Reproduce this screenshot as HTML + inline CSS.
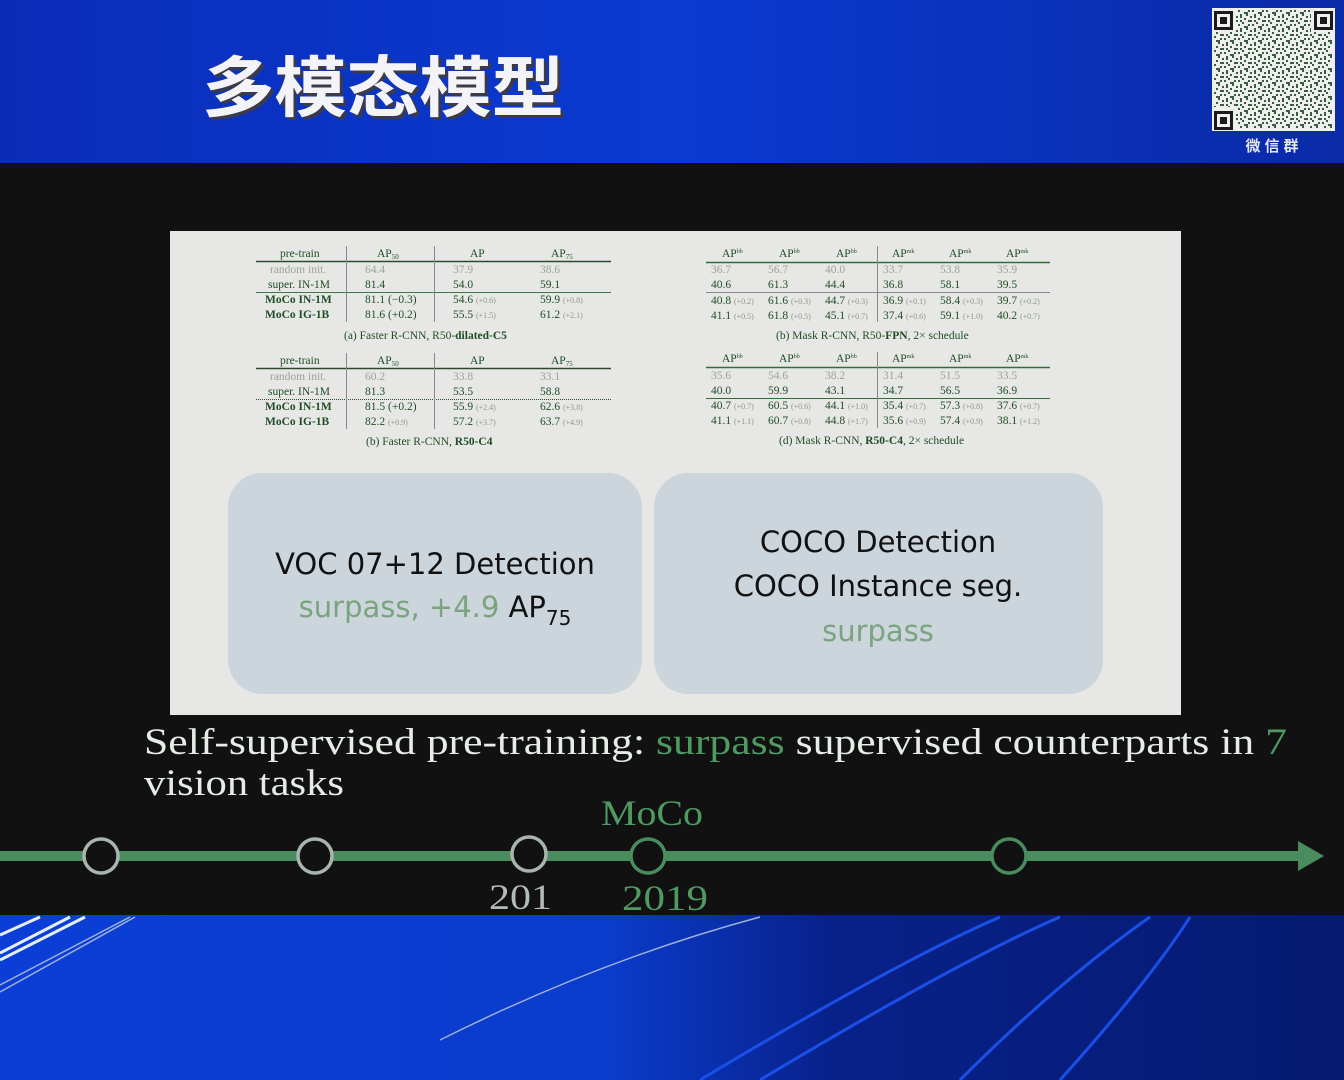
<!DOCTYPE html>
<html><head><meta charset="utf-8"><style>
html,body{margin:0;padding:0;width:1344px;height:1080px;overflow:hidden;background:#111}
svg{display:block}
.t{font-family:"Liberation Serif",serif;font-size:11.5px;fill:#1f4d26}
.g{fill:#9aa39b}
.s{font-size:8px;fill:#8a958c}
.b{font-weight:bold}
</style></head><body>
<svg width="1344" height="1080" viewBox="0 0 1344 1080" xmlns="http://www.w3.org/2000/svg">
<defs>
<linearGradient id="top" x1="0" y1="0" x2="1" y2="0">
<stop offset="0" stop-color="#0a2db8"/><stop offset="0.5" stop-color="#0b3ad0"/><stop offset="1" stop-color="#0a2aa8"/></linearGradient>
<linearGradient id="bot" x1="0" y1="0" x2="1" y2="0">
<stop offset="0" stop-color="#0a3ed6"/><stop offset="0.45" stop-color="#0a3ccc"/><stop offset="0.62" stop-color="#08218a"/><stop offset="1" stop-color="#061a70"/></linearGradient>
<pattern id="qr" width="14" height="14" patternUnits="userSpaceOnUse">
<rect width="14" height="14" fill="#eef0ee"/>
<g fill="#3a5a42">
<rect x="0" y="0" width="2" height="2"/><rect x="4" y="2" width="2" height="2"/><rect x="8" y="0" width="2" height="4"/><rect x="12" y="4" width="2" height="2"/>
<rect x="2" y="6" width="4" height="2"/><rect x="10" y="8" width="2" height="2"/><rect x="6" y="10" width="2" height="2"/><rect x="0" y="12" width="2" height="2"/>
<rect x="12" y="12" width="2" height="2"/><rect x="8" y="6" width="2" height="2"/><rect x="2" y="10" width="2" height="2"/>
</g>
</pattern>
</defs>
<rect x="0" y="0" width="1344" height="163" fill="url(#top)"/>
<rect x="0" y="163" width="1344" height="752" fill="#111111"/>
<rect x="0" y="915" width="1344" height="165" fill="url(#bot)"/>
<g stroke="#e8eef5" stroke-width="3" fill="none">
<path d="M0 935 L40 917"/><path d="M0 953 L70 917"/><path d="M0 960 L85 917"/>
</g>
<g stroke="#9fb0d8" stroke-width="1.5" fill="none">
<path d="M0 985 L130 917"/><path d="M0 992 L135 917"/>
<path d="M440 1040 Q600 960 760 917"/>
</g>
<g stroke="#1a50e8" stroke-width="3" fill="none">
<path d="M700 1080 Q900 960 1000 917"/><path d="M760 1080 Q960 960 1060 917"/><path d="M960 1080 Q1060 980 1150 917"/><path d="M1060 1080 Q1150 980 1190 917"/>
</g>
<text x="205" y="114" font-family="'Liberation Sans','Noto Sans CJK SC',sans-serif" font-size="66" font-weight="bold" fill="#3a3a4a" textLength="362" lengthAdjust="spacingAndGlyphs">多模态模型</text>
<text x="202" y="111" font-family="'Liberation Sans','Noto Sans CJK SC',sans-serif" font-size="66" font-weight="bold" fill="#f4f4f8" textLength="362" lengthAdjust="spacingAndGlyphs">多模态模型</text>
<!-- QR -->
<rect x="1212" y="8" width="123" height="123" fill="#eef0ee"/>
<rect x="1214" y="10" width="118" height="118" fill="url(#qr)"/>
<g fill="#eef0ee"><rect x="1213" y="9" width="23" height="23"/><rect x="1311" y="9" width="23" height="23"/><rect x="1213" y="107" width="23" height="23"/></g>
<g fill="#1a1a1a"><rect x="1214" y="11" width="19" height="19"/><rect x="1314" y="11" width="19" height="19"/><rect x="1214" y="111" width="19" height="19"/></g>
<g fill="#eef0ee"><rect x="1217" y="14" width="13" height="13"/><rect x="1317" y="14" width="13" height="13"/><rect x="1217" y="114" width="13" height="13"/></g>
<g fill="#1a1a1a"><rect x="1220" y="17" width="7" height="7"/><rect x="1320" y="17" width="7" height="7"/><rect x="1220" y="117" width="7" height="7"/></g>
<text x="1274" y="151" text-anchor="middle" font-family="'Liberation Sans','Noto Sans CJK SC',sans-serif" font-size="15" font-weight="bold" fill="#e6e8ee" letter-spacing="4">微信群</text>

<!-- paper panel -->
<rect x="170" y="231" width="1011" height="484" fill="#e7e8e6"/>
<g stroke="#2a4a2c" stroke-width="1" fill="none">
<line x1="256" y1="261.5" x2="611" y2="261.5" stroke-width="1.5"/>
<line x1="256" y1="292.5" x2="611" y2="292.5" stroke="#3b7a48"/>
<line x1="346.5" y1="246" x2="346.5" y2="322" stroke="#888"/>
<line x1="434.5" y1="246" x2="434.5" y2="322" stroke="#888"/>
<line x1="256" y1="368.5" x2="611" y2="368.5" stroke-width="1.5"/>
<line x1="256" y1="399.5" x2="611" y2="399.5" stroke-dasharray="1,1"/>
<line x1="346.5" y1="353" x2="346.5" y2="429" stroke="#888"/>
<line x1="434.5" y1="353" x2="434.5" y2="429" stroke="#888"/>
<line x1="706" y1="262.5" x2="1050" y2="262.5" stroke="#2d6e3a" stroke-width="1.5"/>
<line x1="706" y1="292.5" x2="1050" y2="292.5" stroke="#888"/>
<line x1="877.5" y1="246" x2="877.5" y2="322" stroke="#888"/>
<line x1="706" y1="367.5" x2="1050" y2="367.5" stroke="#2d6e3a" stroke-width="1.5"/>
<line x1="706" y1="398.5" x2="1050" y2="398.5" stroke="#2d6e3a"/>
<line x1="877.5" y1="352" x2="877.5" y2="428" stroke="#888"/>
</g>
<g class="t">
<text x="280" y="257">pre-train</text><text x="377" y="257">AP<tspan font-size="7" dy="2">50</tspan></text><text x="470" y="257">AP</text><text x="551" y="257">AP<tspan font-size="7" dy="2">75</tspan></text>
<text x="270" y="273" class="t g">random init.</text><text x="365" y="273" class="t g">64.4</text><text x="453" y="273" class="t g">37.9</text><text x="540" y="273" class="t g">38.6</text>
<text x="268" y="288">super. IN-1M</text><text x="365" y="288">81.4</text><text x="453" y="288">54.0</text><text x="540" y="288">59.1</text>
<text x="265" y="303" class="t b">MoCo IN-1M</text><text x="365" y="303">81.1 (−0.3)</text><text x="453" y="303">54.6 <tspan class="s">(+0.6)</tspan></text><text x="540" y="303">59.9 <tspan class="s">(+0.8)</tspan></text>
<text x="265" y="318" class="t b">MoCo IG-1B</text><text x="365" y="318">81.6 (+0.2)</text><text x="453" y="318">55.5 <tspan class="s">(+1.5)</tspan></text><text x="540" y="318">61.2 <tspan class="s">(+2.1)</tspan></text>
<text x="344" y="339">(a) Faster R-CNN, R50-<tspan font-weight="bold">dilated-C5</tspan></text>

<text x="280" y="364">pre-train</text><text x="377" y="364">AP<tspan font-size="7" dy="2">50</tspan></text><text x="470" y="364">AP</text><text x="551" y="364">AP<tspan font-size="7" dy="2">75</tspan></text>
<text x="270" y="380" class="t g">random init.</text><text x="365" y="380" class="t g">60.2</text><text x="453" y="380" class="t g">33.8</text><text x="540" y="380" class="t g">33.1</text>
<text x="268" y="395">super. IN-1M</text><text x="365" y="395">81.3</text><text x="453" y="395">53.5</text><text x="540" y="395">58.8</text>
<text x="265" y="410" class="t b">MoCo IN-1M</text><text x="365" y="410">81.5 (+0.2)</text><text x="453" y="410">55.9 <tspan class="s">(+2.4)</tspan></text><text x="540" y="410">62.6 <tspan class="s">(+3.8)</tspan></text>
<text x="265" y="425" class="t b">MoCo IG-1B</text><text x="365" y="425">82.2 <tspan class="s">(+0.9)</tspan></text><text x="453" y="425">57.2 <tspan class="s">(+3.7)</tspan></text><text x="540" y="425">63.7 <tspan class="s">(+4.9)</tspan></text>
<text x="366" y="445">(b) Faster R-CNN, <tspan font-weight="bold">R50-C4</tspan></text>

<text x="722" y="257">AP<tspan font-size="6" dy="-4">bb</tspan></text><text x="779" y="257">AP<tspan font-size="6" dy="-4">bb</tspan></text><text x="836" y="257">AP<tspan font-size="6" dy="-4">bb</tspan></text><text x="892" y="257">AP<tspan font-size="6" dy="-4">mk</tspan></text><text x="949" y="257">AP<tspan font-size="6" dy="-4">mk</tspan></text><text x="1006" y="257">AP<tspan font-size="6" dy="-4">mk</tspan></text>
<text x="711" y="273" class="t g">36.7</text><text x="768" y="273" class="t g">56.7</text><text x="825" y="273" class="t g">40.0</text><text x="883" y="273" class="t g">33.7</text><text x="940" y="273" class="t g">53.8</text><text x="997" y="273" class="t g">35.9</text>
<text x="711" y="288">40.6</text><text x="768" y="288">61.3</text><text x="825" y="288">44.4</text><text x="883" y="288">36.8</text><text x="940" y="288">58.1</text><text x="997" y="288">39.5</text>
<text x="711" y="304">40.8 <tspan class="s" fill="#1f4d26">(+0.2)</tspan></text><text x="768" y="304">61.6 <tspan class="s" fill="#1f4d26">(+0.3)</tspan></text><text x="825" y="304">44.7 <tspan class="s" fill="#1f4d26">(+0.3)</tspan></text><text x="883" y="304">36.9 <tspan class="s" fill="#1f4d26">(+0.1)</tspan></text><text x="940" y="304">58.4 <tspan class="s" fill="#1f4d26">(+0.3)</tspan></text><text x="997" y="304">39.7 <tspan class="s" fill="#1f4d26">(+0.2)</tspan></text>
<text x="711" y="319">41.1 <tspan class="s">(+0.5)</tspan></text><text x="768" y="319">61.8 <tspan class="s">(+0.5)</tspan></text><text x="825" y="319">45.1 <tspan class="s">(+0.7)</tspan></text><text x="883" y="319">37.4 <tspan class="s">(+0.6)</tspan></text><text x="940" y="319">59.1 <tspan class="s">(+1.0)</tspan></text><text x="997" y="319">40.2 <tspan class="s">(+0.7)</tspan></text>
<text x="776" y="339">(b) Mask R-CNN, R50-<tspan font-weight="bold">FPN</tspan>, 2× schedule</text>

<text x="722" y="362">AP<tspan font-size="6" dy="-4">bb</tspan></text><text x="779" y="362">AP<tspan font-size="6" dy="-4">bb</tspan></text><text x="836" y="362">AP<tspan font-size="6" dy="-4">bb</tspan></text><text x="892" y="362">AP<tspan font-size="6" dy="-4">mk</tspan></text><text x="949" y="362">AP<tspan font-size="6" dy="-4">mk</tspan></text><text x="1006" y="362">AP<tspan font-size="6" dy="-4">mk</tspan></text>
<text x="711" y="379" class="t g">35.6</text><text x="768" y="379" class="t g">54.6</text><text x="825" y="379" class="t g">38.2</text><text x="883" y="379" class="t g">31.4</text><text x="940" y="379" class="t g">51.5</text><text x="997" y="379" class="t g">33.5</text>
<text x="711" y="394">40.0</text><text x="768" y="394">59.9</text><text x="825" y="394">43.1</text><text x="883" y="394">34.7</text><text x="940" y="394">56.5</text><text x="997" y="394">36.9</text>
<text x="711" y="409">40.7 <tspan class="s">(+0.7)</tspan></text><text x="768" y="409">60.5 <tspan class="s">(+0.6)</tspan></text><text x="825" y="409">44.1 <tspan class="s">(+1.0)</tspan></text><text x="883" y="409">35.4 <tspan class="s">(+0.7)</tspan></text><text x="940" y="409">57.3 <tspan class="s">(+0.8)</tspan></text><text x="997" y="409">37.6 <tspan class="s">(+0.7)</tspan></text>
<text x="711" y="424">41.1 <tspan class="s">(+1.1)</tspan></text><text x="768" y="424">60.7 <tspan class="s">(+0.8)</tspan></text><text x="825" y="424">44.8 <tspan class="s">(+1.7)</tspan></text><text x="883" y="424">35.6 <tspan class="s">(+0.9)</tspan></text><text x="940" y="424">57.4 <tspan class="s">(+0.9)</tspan></text><text x="997" y="424">38.1 <tspan class="s">(+1.2)</tspan></text>
<text x="779" y="444">(d) Mask R-CNN, <tspan font-weight="bold">R50-C4</tspan>, 2× schedule</text>
</g>

<rect x="228" y="473" width="414" height="221" rx="34" fill="#cdd5dc"/>
<rect x="654" y="473" width="449" height="221" rx="34" fill="#cdd5dc"/>
<g font-family="'DejaVu Sans',sans-serif" font-size="29" text-anchor="middle">
<text x="435" y="574" fill="#111">VOC 07+12 Detection</text>
<text x="435" y="617" fill="#7aa37f">surpass, +4.9 <tspan fill="#111">AP</tspan><tspan fill="#111" font-size="20" dy="8">75</tspan></text>
<text x="878" y="552" fill="#111">COCO Detection</text>
<text x="878" y="596" fill="#111">COCO Instance seg.</text>
<text x="878" y="641" fill="#7aa37f">surpass</text>
</g>

<g font-family="'Liberation Serif',serif" font-size="37" fill="#e6ece6">
<text x="144" y="754" textLength="1143" lengthAdjust="spacingAndGlyphs">Self-supervised pre-training: <tspan fill="#4e9a62">surpass</tspan> supervised counterparts in <tspan fill="#4e9a62">7</tspan></text>
<text x="144" y="795" textLength="200" lengthAdjust="spacingAndGlyphs">vision tasks</text>
</g>

<rect x="0" y="851" width="1300" height="10" fill="#4a8c5e"/>
<polygon points="1298,841 1324,856 1298,871" fill="#4a8c5e"/>
<g stroke-width="3.5" fill="#111">
<ellipse cx="101" cy="856" rx="17" ry="17" stroke="#a8b4ac"/>
<ellipse cx="315" cy="856" rx="17" ry="17" stroke="#a8b4ac"/>
<ellipse cx="529" cy="854" rx="17" ry="17" stroke="#a8b4ac"/>
<ellipse cx="648" cy="856" rx="17" ry="17" stroke="#4a8c5e"/>
<ellipse cx="1009" cy="856" rx="17" ry="17" stroke="#4a8c5e"/>
</g>
<g font-family="'Liberation Serif',serif" font-size="36">
<text x="601" y="825" fill="#4e9a62" textLength="102" lengthAdjust="spacingAndGlyphs">MoCo</text>
<text x="489" y="909" fill="#b4bcb6" textLength="63" lengthAdjust="spacingAndGlyphs">201</text>
<text x="622" y="910" fill="#4e9a62" textLength="86" lengthAdjust="spacingAndGlyphs">2019</text>
</g>
</svg>
</body></html>
